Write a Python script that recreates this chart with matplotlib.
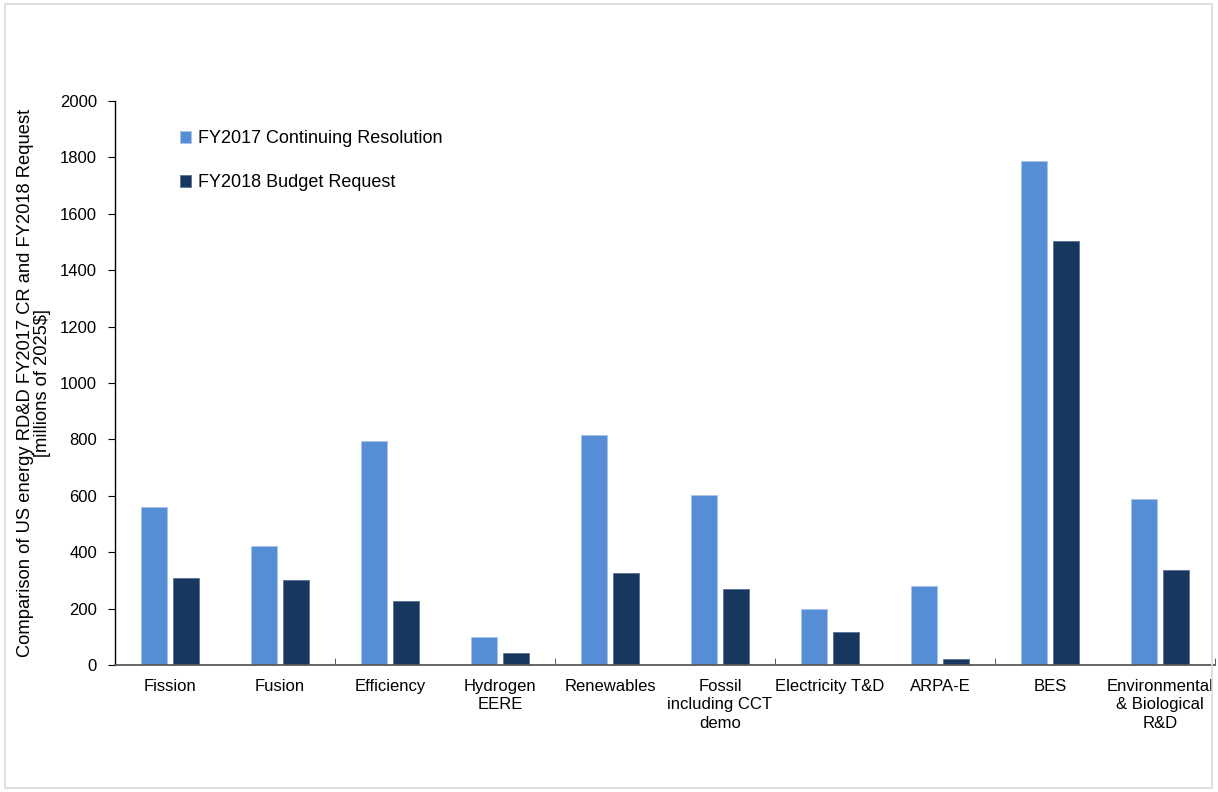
import numpy as np
import matplotlib
matplotlib.use("Agg")
import matplotlib.pyplot as plt
from matplotlib.patches import Rectangle

plt.rcParams["font.family"] = ["Liberation Sans", "DejaVu Sans"]

categories = ["Fission", "Fusion", "Efficiency", "Hydrogen\nEERE", "Renewables",
              "Fossil\nincluding CCT\ndemo", "Electricity T&D", "ARPA-E", "BES",
              "Environmental\n& Biological\nR&D"]
fy2017_cr = [559, 422, 795, 98, 817, 603, 199, 281, 1787, 588]
fy2018_req = [308, 300, 227, 42, 325, 270, 116, 21, 1503, 338]
yticks = [0, 200, 400, 600, 800, 1000, 1200, 1400, 1600, 1800, 2000]

light = "#558ED5"
dark = "#17375E"

fig = plt.figure(figsize=(12.18, 7.92), dpi=100)
ax = fig.add_axes([0.0944, 0.1604, 0.9031, 0.7121])

# outer chart frame
fig.patches.append(Rectangle((0.004, 0.005), 0.991, 0.99, transform=fig.transFigure,
                             fill=False, edgecolor="#D9D9D9", linewidth=1.2))

x = np.arange(len(categories))
w = 0.23
ax.bar(x - 0.145, fy2017_cr, w, color=light, edgecolor="#A9C4EB", linewidth=0.6,
       label="FY2017 Continuing Resolution")
ax.bar(x + 0.145, fy2018_req, w, color=dark, edgecolor="#5A7394", linewidth=0.6,
       label="FY2018 Budget Request")

ax.set_xlim(-0.5, len(categories) - 0.5)
ax.set_ylim(0, 2000)
ax.set_yticks(yticks)
ax.set_yticklabels([str(t) for t in yticks], fontsize=12)

ax.set_xticks(x)
ax.set_xticklabels(categories, fontsize=12, linespacing=1.3)
ax.tick_params(axis="x", which="major", length=0, pad=10)
# tick marks every second category boundary
ax.set_xticks(np.arange(-0.5, len(categories), 2), minor=True)
ax.tick_params(axis="x", which="minor", length=5, direction="in", color="#404040")
ax.tick_params(axis="y", length=5, direction="out", pad=8, color="black")

for s in ["top", "right"]:
    ax.spines[s].set_visible(False)
ax.spines["bottom"].set_color("#595959")
ax.spines["bottom"].set_linewidth(1.3)
ax.spines["left"].set_color("black")
ax.spines["left"].set_linewidth(1.0)

ax.set_ylabel("Comparison of US energy RD&D FY2017 CR and FY2018 Request\n[millions of 2025$]",
              fontsize=13.2, linespacing=1.0, labelpad=6)

ax.legend(loc="upper left", bbox_to_anchor=(0.044, 0.977), frameon=False, fontsize=13,
          handlelength=0.65, handleheight=0.65, handletextpad=0.35, labelspacing=1.5)

fig.savefig("out.png", dpi=100)
